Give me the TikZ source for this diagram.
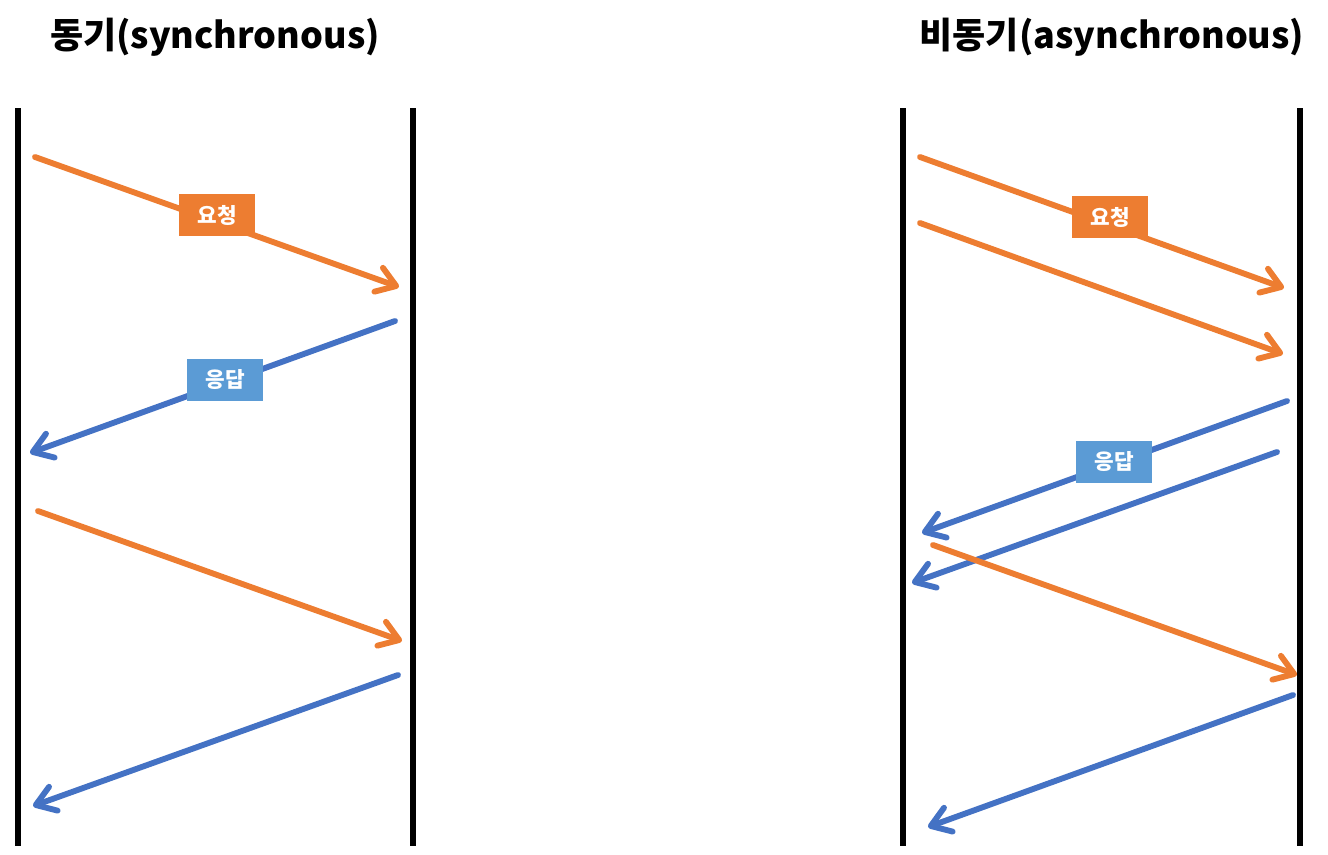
\documentclass[tikz,border=0pt]{standalone}
\usepackage{fontspec}
\setmainfont{Noto Sans CJK KR}
\usetikzlibrary{arrows.meta}
\definecolor{reqline}{HTML}{ED7D31}
\definecolor{resline}{HTML}{4472C4}
\definecolor{resfill}{HTML}{5B9BD5}
\begin{document}
\begin{tikzpicture}[x=0.75pt,y=-0.75pt,
            life/.style = {draw,line width=4.4pt},
            msg/.style = {line width=4.4pt,line cap=round,
                -{Straight Barb[length=14pt,width=19pt,line cap=round,line join=round]}},
            req/.style = {msg,reqline},
            res/.style = {msg,resline},
            tag/.style = {text=white,font=\bfseries\fontsize{16}{19}\selectfont,
                minimum width=57pt,minimum height=32pt,inner sep=0pt},
            title/.style = {font=\bfseries\fontsize{27}{31}\selectfont}]
            \useasboundingbox (0,0) rectangle (1328,854);
            % lifelines
            \coordinate (sa-top) at (18,108);   \coordinate (sa-bot) at (18,846);
            \coordinate (sb-top) at (413,108);  \coordinate (sb-bot) at (413,846);
            \coordinate (aa-top) at (903,108);  \coordinate (aa-bot) at (903,846);
            \coordinate (ab-top) at (1300,108); \coordinate (ab-bot) at (1300,846);
            \path[life]
                (sa-top) edge (sa-bot)
                (sb-top) edge (sb-bot)
                (aa-top) edge (aa-bot)
                (ab-top) edge (ab-bot);
            \node[title] (sync) at (215,37) {동기(synchronous)};
            \node[title] (async) at (1112,37) {비동기(asynchronous)};
            % synchronous
            \coordinate (s1a) at (35,157);  \coordinate (s1b) at (399,287);
            \coordinate (s2a) at (395,321); \coordinate (s2b) at (30,453);
            \coordinate (s3a) at (38,511);  \coordinate (s3b) at (402,641);
            \coordinate (s4a) at (398,675); \coordinate (s4b) at (33,806);
            \draw[req] (s1a) -- (s1b);
            \draw[res] (s2a) -- (s2b);
            \draw[req] (s3a) -- (s3b);
            \draw[res] (s4a) -- (s4b);
            \node[tag,fill=reqline] (s-req) at (217,215) {요청};
            \node[tag,fill=resfill] (s-res) at (225,380) {응답};
            % asynchronous
            \coordinate (a1a) at (920,157);  \coordinate (a1b) at (1284,288);
            \coordinate (a2a) at (920,223);  \coordinate (a2b) at (1283,354);
            \coordinate (a3a) at (1287,401); \coordinate (a3b) at (922,533);
            \coordinate (a4a) at (1277,452); \coordinate (a4b) at (912,583);
            \coordinate (a5a) at (933,545);  \coordinate (a5b) at (1297,675);
            \coordinate (a6a) at (1293,695); \coordinate (a6b) at (928,827);
            \draw[req] (a1a) -- (a1b);
            \draw[req] (a2a) -- (a2b);
            \draw[res] (a3a) -- (a3b);
            \draw[res] (a4a) -- (a4b);
            \draw[req] (a5a) -- (a5b);
            \draw[res] (a6a) -- (a6b);
            \node[tag,fill=reqline] (a-req) at (1110,217) {요청};
            \node[tag,fill=resfill] (a-res) at (1114,462) {응답};
        \end{tikzpicture}
\end{document}
